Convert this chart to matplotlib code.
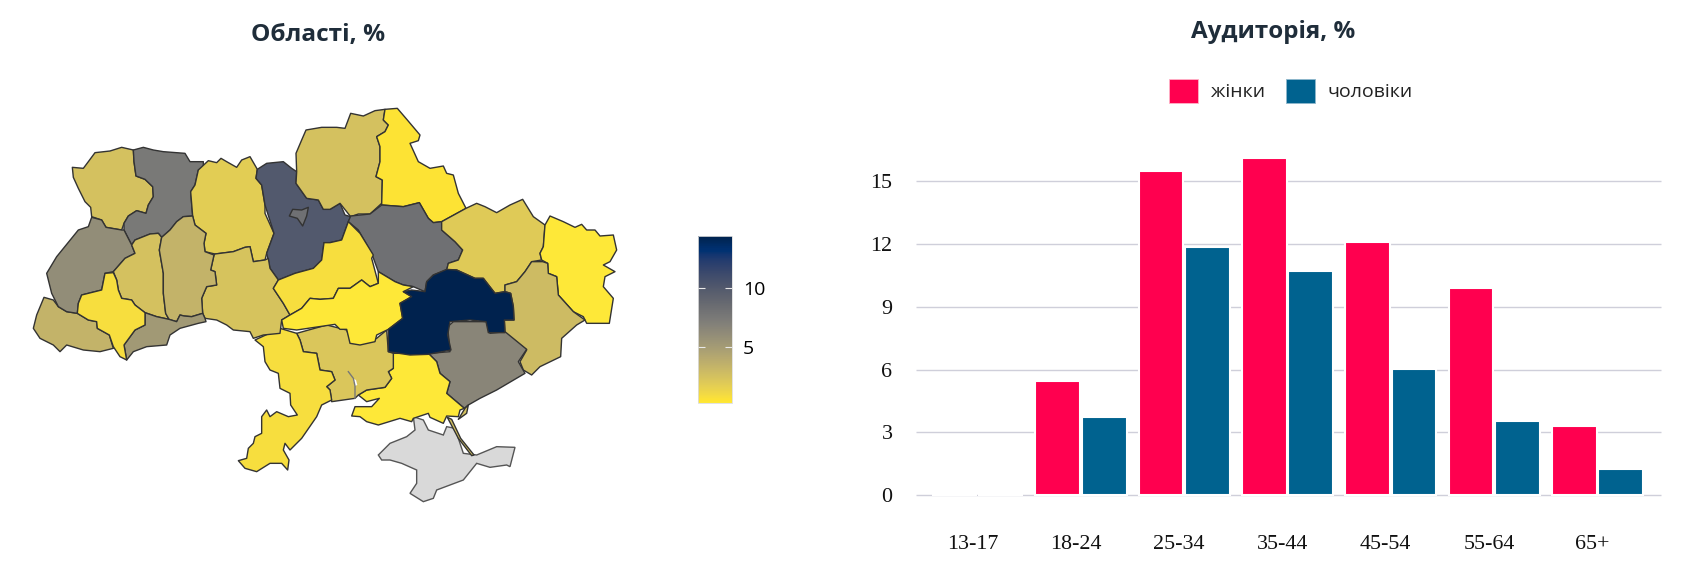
import matplotlib
matplotlib.use('Agg')
import matplotlib.pyplot as plt
from matplotlib.colors import Normalize
from matplotlib.cm import ScalarMappable
from matplotlib.patches import Patch

W, H = 1693, 576

# bar chart data
age_groups = ['13-17', '18-24', '25-34', '35-44', '45-54', '55-64', '65+']
women = [0, 5.43, 15.5, 16.14, 12.1, 9.88, 3.31]
men = [0, 3.72, 11.88, 10.7, 6.05, 3.52, 1.24]
y_ticks = [0, 3, 6, 9, 12, 15]

# outlines, in 3x crop coordinates
def crop1(pts):
    return [(20 + x / 3, 90 + y / 3) for x, y in pts]

def crop2(pts):
    return [(320 + x / 3, 90 + y / 3) for x, y in pts]

def crop3(pts):
    return [(220 + x / 3, 310 + y / 3) for x, y in pts]

zakarpattia = crop1([(72,622),(100,630),(115,650),(140,665),(172,670),(205,690),(230,695),(232,715),(268,735),(280,775),(240,785),(190,780),(140,765),(120,785),(100,765),(60,745),(40,715),(50,675)])
volyn = crop1([(157,232),(190,235),(205,215),(225,188),(270,183),(305,172),(340,180),(342,215),(348,258),(375,268),(398,290),(400,320),(385,345),(378,370),(350,362),(325,378),(312,400),(305,420),(258,412),(245,390),(215,380),(212,352),(195,335),(175,295),(160,262)])
rivne = crop1([(340,180),(370,172),(400,180),(430,185),(495,190),(510,215),(550,215),(550,232),(535,240),(525,285),(512,305),(518,378),(490,380),(470,395),(450,420),(425,442),(415,430),(390,432),(345,450),(335,465),(312,420),(312,400),(325,378),(350,362),(378,370),(385,345),(400,320),(398,290),(375,268),(348,258),(342,215)])
zhytomyr = crop1([(535,240),(565,212),(590,218),(603,205),(620,215),(650,232),(665,210),(690,200),(712,238),(708,265),(725,285),(735,345),(735,370),(762,430),(740,490),(735,510),(700,515),(690,470),(675,472),(640,485),(585,492),(555,485),(552,460),(558,430),(525,405),(518,378),(512,305),(525,285)])
kyiv_obl = crop1([(712,238),(740,220),(790,215),(815,235),(830,245),(828,280),(860,325),(895,330),(910,358),(930,358),(960,340),(975,375),(992,380),(985,395),(965,450),(930,458),(912,458),(905,510),(880,535),(825,550),(775,570),(750,535),(740,490),(762,430),(735,345),(725,285),(708,265)])
kyiv_city = crop1([(808,378),(818,358),(845,360),(865,352),(860,378),(848,408),(832,385)])
chernihiv = crop1([(858,120),(905,112),(950,112),(975,115),(992,70),(1030,78),(1065,62),(1095,58),(1090,90),(1105,105),(1095,125),(1070,140),(1080,170),(1080,215),(1068,260),(1087,270),(1085,340),(1050,372),(1015,372),(992,380),(960,340),(930,358),(910,358),(895,330),(860,325),(828,280),(830,245),(828,190),(845,150)])
sumy = crop2([(195,58),(232,55),(262,90),(300,135),(295,152),(270,160),(295,215),(330,235),(370,228),(380,250),(400,255),(415,310),(438,355),(365,395),(340,398),(325,385),(298,338),(250,350),(185,345),(187,270),(168,260),(180,215),(180,170),(170,140),(195,125),(205,105),(190,90)])
poltava = crop2([(92,378),(150,372),(185,345),(250,350),(298,338),(325,385),(340,398),(365,395),(365,420),(405,455),(428,480),(415,510),(385,520),(380,540),(340,555),(320,575),(315,605),(280,590),(250,585),(225,575),(175,545),(155,490),(115,420),(85,395)])
kharkiv = crop2([(365,395),(438,355),(470,340),(495,350),(530,368),(570,345),(608,328),(640,380),(675,405),(670,470),(660,490),(665,510),(635,515),(615,545),(590,575),(555,585),(555,605),(525,610),(490,565),(465,565),(410,540),(380,540),(385,520),(415,510),(428,480),(405,455),(365,420)])
luhansk = crop2([(675,405),(690,378),(730,395),(765,412),(785,403),(800,420),(825,420),(840,438),(880,435),(890,480),(870,515),(850,525),(885,545),(855,560),(850,590),(880,625),(868,700),(800,700),(790,680),(760,665),(715,615),(710,560),(685,550),(683,520),(665,510),(660,490),(670,470)])
donetsk = crop2([(635,515),(668,515),(683,520),(685,550),(710,560),(715,615),(760,665),(795,690),(770,705),(725,745),(722,800),(660,830),(635,855),(610,840),(600,815),(620,780),(555,730),(553,690),(582,690),(580,650),(572,610),(555,605),(555,585),(590,575),(615,545)])
dnipro = crop2([(250,605),(275,600),(315,605),(320,575),(340,555),(380,538),(410,540),(465,565),(490,565),(525,610),(555,605),(572,610),(580,650),(582,690),(553,690),(555,728),(505,728),(498,695),(450,690),(390,695),(383,735),(393,780),(325,793),(270,795),(205,785),(205,718),(248,685),(240,640),(275,620)])
zaporizhzhia = crop3([(630,130),(690,125),(683,50),(700,35),(750,35),(805,35),(810,70),(855,65),(920,118),(895,155),(915,190),(830,240),(780,265),(745,285),(733,295),(680,250),(690,215),(660,190),(650,155),(625,130)])
kherson = crop3([(520,130),(625,130),(650,155),(660,190),(690,215),(680,250),(733,295),(720,300),(715,320),(680,318),(670,340),(630,322),(625,310),(580,325),(575,335),(540,325),(475,345),(440,335),(420,320),(395,318),(405,290),(455,290),(478,265),(440,275),(415,255),(440,240),(495,232),(515,205),(505,185),(520,175)])
mykolaiv = crop3([(230,70),(320,45),(380,60),(395,100),(420,100),(470,85),(500,60),(505,125),(520,130),(520,175),(505,185),(515,205),(495,232),(440,240),(415,255),(405,265),(370,270),(335,275),(330,240),(320,230),(345,210),(335,185),(300,180),(290,130),(250,125),(240,90)])
odesa = crop3([(105,90),(180,55),(230,70),(240,90),(250,125),(290,130),(300,180),(335,185),(345,210),(320,230),(330,240),(335,270),(305,285),(290,320),(245,385),(210,420),(195,400),(190,420),(207,450),(203,480),(185,460),(150,460),(110,485),(75,475),(55,452),(80,445),(85,415),(100,400),(105,380),(125,370),(125,320),(140,300),(150,320),(170,305),(205,320),(232,315),(212,285),(210,250),(180,235),(175,190),(150,180),(135,155),(130,110)])
kirovohrad = crop1([(785,690),(810,675),(845,655),(870,625),(900,628),(940,625),(955,595),(990,595),(1025,570),(1050,590),(1075,580),(1075,545),(1125,575),(1150,585),(1180,590),(1150,605),(1175,620),(1140,640),(1148,685),(1105,718),(1070,735),(1065,755),(1020,765),(990,760),(980,718),(960,718),(945,703),(830,720),(790,715)])
cherkasy = crop1([(775,570),(825,550),(880,535),(905,510),(912,458),(930,458),(965,450),(985,395),(1020,430),(1060,495),(1055,505),(1075,580),(1050,590),(1025,570),(990,595),(955,595),(940,625),(900,628),(870,625),(845,655),(810,675),(790,640),(760,595)])
vinnytsia = crop1([(585,492),(640,485),(675,472),(690,470),(700,515),(735,510),(745,505),(750,535),(775,570),(760,595),(790,640),(810,675),(785,690),(780,730),(730,735),(700,745),(690,725),(640,720),(620,705),(590,690),(555,685),(548,670),(545,625),(560,590),(590,585),(585,545),(572,540),(582,495)])
lviv = crop1([(215,382),(245,390),(258,412),(305,420),(312,420),(335,465),(345,490),(315,505),(280,545),(255,550),(245,600),(185,615),(175,640),(172,670),(140,665),(115,650),(95,610),(80,550),(110,500),(175,420),(205,410)])
ternopil = crop1([(345,450),(390,432),(415,430),(425,442),(418,480),(430,550),(430,610),(437,670),(447,688),(410,680),(375,668),(345,645),(335,630),(305,625),(295,600),(290,570),(280,545),(315,505),(345,490),(335,465)])
khmelnytskyi = crop1([(425,442),(450,420),(470,395),(490,380),(518,378),(525,405),(558,430),(552,460),(555,485),(582,495),(572,540),(585,545),(590,585),(560,590),(545,625),(548,670),(515,680),(492,678),(480,675),(470,695),(447,688),(437,670),(430,610),(430,550),(418,480)])
chernivtsi = crop1([(375,668),(410,680),(447,688),(470,695),(480,675),(492,678),(515,680),(548,670),(555,685),(558,695),(535,700),(480,715),(450,735),(440,765),(380,770),(340,785),(320,810),(312,765),(345,720),(375,705)])
ivano_frankivsk = crop1([(255,550),(280,548),(290,570),(295,600),(305,625),(335,630),(345,645),(375,668),(375,705),(345,720),(312,765),(320,810),(300,800),(280,770),(268,735),(232,715),(230,695),(205,690),(172,670),(175,640),(185,615),(245,600)])
crimea = crop3([(475,435),(510,400),(560,380),(585,360),(580,320),(610,330),(625,360),(670,375),(680,350),(705,355),(720,400),(730,430),(770,435),(830,410),(885,412),(870,470),(860,465),(810,472),(770,460),(730,510),(650,540),(640,565),(610,575),(570,550),(590,520),(590,480),(545,460),(510,450),(485,450)])
arabat_spit = crop3([(682,322),(695,328),(722,385),(762,435),(755,437),(715,385)])
azov_spit = crop3([(745,285),(740,310),(715,328),(735,295)])
estuary = crop3([(398,205),(408,210),(412,225),(405,228)])
estuary_shore = crop3([(385,185),(400,205),(405,228),(405,265)])

# regions in drawing order and their share, read through the colour scale
regions = [zakarpattia, volyn, rivne, zhytomyr, kyiv_obl, chernihiv, sumy, poltava,
           kharkiv, luhansk, donetsk, zaporizhzhia, kherson, mykolaiv, odesa,
           vinnytsia, cherkasy, kirovohrad, dnipro, lviv, ternopil, khmelnytskyi,
           chernivtsi, ivano_frankivsk, kyiv_city, arabat_spit, azov_spit]
region_values = [3.4, 2.5, 7.5, 1.75, 10.0, 2.5, 0.5, 8.2,
                 1.95, 0.3, 2.9, 6.6, 0.3, 2.2, 0.8,
                 2.4, 0.8, 0.3, 14.4, 6.0, 2.5, 3.4,
                 5.2, 0.8, 8.2, 2.5, 2.5]
color_ticks = [5, 10]
color_min, color_max = 0.25, 14.4

fig = plt.figure(figsize=(W / 100, H / 100), dpi=100, facecolor='white')
sans = ['Open Sans', 'DejaVu Sans']
serif = ['Liberation Serif', 'DejaVu Serif']
title_color = '#1f2d3a'

def axes_px(left, top, right, bottom):
    return fig.add_axes([left / W, 1 - bottom / H, (right - left) / W, (bottom - top) / H])

# map
norm = Normalize(color_min, color_max)
cmap = plt.get_cmap('cividis_r')
ax_map = axes_px(0, 0, 690, H)
ax_map.set_xlim(0, 690)
ax_map.set_ylim(H, 0)
ax_map.axis('off')
ax_map.fill(*zip(*crimea), facecolor='#d9d9d9', edgecolor='#555555', linewidth=1)
for outline, value in zip(regions, region_values):
    ax_map.fill(*zip(*outline), facecolor=cmap(norm(value)), edgecolor='#333333',
                linewidth=1, joinstyle='round')
ax_map.fill(*zip(*estuary), facecolor='white', edgecolor='none')
ax_map.plot(*zip(*estuary_shore), color='#777777', linewidth=1)
fig.text(318 / W, 1 - 35 / H, 'Області, %', ha='center', va='center', fontsize=17.6,
         fontweight='bold', family=sans, color=title_color)

# colour scale
cax = axes_px(698, 236, 732, 403)
cbar = fig.colorbar(ScalarMappable(norm=norm, cmap=cmap), cax=cax, ticks=color_ticks)
cbar.outline.set_edgecolor('#dddddd')
cbar.outline.set_linewidth(0.6)
cax.tick_params(axis='y', direction='in', left=True, right=True, color='#e8e8e8',
                length=5, width=0.8, pad=8, labelsize=14)
for label in cax.get_yticklabels():
    label.set_family(sans)

# bars
ax = axes_px(916, 150, 1661, 495)
x = list(range(len(age_groups)))
bar_w = 0.434
ax.bar([i - 0.2245 for i in x], women, bar_w, color='#ff004f', edgecolor='white',
       linewidth=1.5, zorder=3, label='жінки', clip_on=False)
ax.bar([i + 0.2245 for i in x], men, bar_w, color='#00628f', edgecolor='white',
       linewidth=1.5, zorder=3, label='чоловіки', clip_on=False)
ax.set_xlim(-0.597, 6.615)
ax.set_ylim(0, 16.5)
ax.set_yticks(y_ticks)
ax.set_xticks([i - 0.05 for i in x])
ax.set_xticklabels(age_groups, family=serif, fontsize=15.8, color='#111111')
ax.tick_params(axis='x', length=0, pad=29)
ax.tick_params(axis='y', length=0, pad=17, labelsize=15.8, labelcolor='#111111')
for label in ax.get_yticklabels():
    label.set_family(serif)
ax.grid(axis='y', color='#cfcfda', linewidth=1, zorder=1, solid_capstyle='butt')
ax.set_axisbelow(True)
for spine in ax.spines.values():
    spine.set_visible(False)
for line in ax.get_ygridlines():
    line.set_clip_on(False)

fig.text(1273 / W, 1 - 32 / H, 'Аудиторія, %', ha='center', va='center', fontsize=17.4,
         fontweight='bold', family=sans, color=title_color)
handles = [Patch(facecolor='#ff004f', edgecolor='#ffb3c8', linewidth=0.6, label='жінки'),
           Patch(facecolor='#00628f', edgecolor='#8fb8cc', linewidth=0.6, label='чоловіки')]
fig.legend(handles=handles, loc='center', bbox_to_anchor=(1291 / W, 1 - 91 / H), ncol=2,
           frameon=False, prop={'family': sans, 'size': 14}, handlelength=1.5,
           handleheight=1.5, handletextpad=0.65, columnspacing=1.1, borderpad=0,
           labelcolor='#222222')

fig.savefig('out.png', dpi=100)
